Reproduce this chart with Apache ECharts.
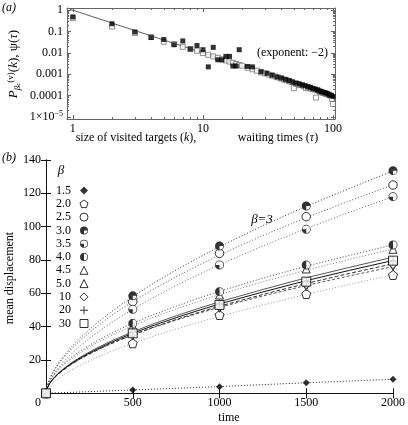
<!DOCTYPE html>
<html><head><meta charset="utf-8">
<script src="https://cdn.jsdelivr.net/npm/echarts@6/dist/echarts.min.js"></script>
<style>html,body{margin:0;padding:0;background:#fff}#c{width:408px;height:425px}</style>
</head><body><div id="c"></div>
<script>
const FONT = 'Liberation Serif';

// ---------- panel (a) data ----------
const targetK = [1,2,3,4,5,6,7,8,9,10,11,12,13,14,15,16,17,18,19,22,24,28,31,34,37,40,43,46,49,52,55,58,61,64,67,70,73,76,79,82,85,88,91,94,97,100];
const targetP = [0.48,0.23,0.095,0.052,0.042,0.024,0.036,0.015,0.022,0.014,0.0022,0.018,0.0047,0.0047,0.0068,0.0068,0.0024,0.0024,0.014,0.0023,0.0022,0.0013,0.0011,0.0009,0.00074,0.00066,0.00057,0.0005,0.00043,0.00038,0.00035,0.00031,0.00029,0.00026,0.00024,0.00021,0.0002,0.00018,0.00016,0.00015,0.00014,0.00013,0.00012,0.000105,0.0001,0.00009];
const waitTau = [1,2,3,4,5,6,7,8,9,10,11,12,13,14,15,16,17,18,19,20,22,24,26,28,30,32,34,36,38,40,42,44,46,48,50,52,54,56,58,60,62,64,66,68,70,72,74,76,78,80,82,84,86,88,90,92,94,96,98,100];
const waitPsi = [0.42,0.17,0.085,0.055,0.033,0.026,0.019,0.015,0.0125,0.0098,0.0081,0.0068,0.0058,0.005,0.0044,0.0039,0.0034,0.003,0.0027,0.0025,0.002,0.0017,0.00145,0.0012,0.0011,0.00095,0.00085,0.00078,0.0007,0.00062,0.00055,0.00052,0.00047,0.00043,0.00022,0.00036,0.00033,0.00031,0.0003,0.00027,0.00022,0.00024,0.00023,0.00021,0.0002,0.00019,0.00008,0.00018,0.00016,0.00015,0.00014,0.00013,0.00013,0.00012,0.00012,0.00011,0.000105,0.0001,0.00007,0.00004];
const guideX = [0.95, 100];
const guideY = [1.1, 0.0001];
const aXTicks = [1, 10, 100];
const aXTickLabels = ['1', '10', '100'];
const aYTicks = [0.00001, 0.0001, 0.001, 0.01, 0.1, 1];
const aYTickLabels = ['1×10{sup|−5}', '0.0001', '0.001', '0.01', '0.1', '1'];

// ---------- panel (b) data ----------
const betas = ['1.5','2.0','2.5','3.0','3.5','4.0','4.5','5.0','10','20','30'];
const markTimes = [0, 500, 1000, 1500, 2000];
const fitTimes = [0, 5, 10, 20, 35, 50, 75, 100, 150, 200, 275, 350, 425, 500, 625, 750, 875, 1000, 1250, 1500, 1750, 2000];
const fit15  = [0, 0.02, 0.04, 0.08, 0.14, 0.2, 0.3, 0.4, 0.6, 0.8, 1.1, 1.4, 1.7, 2.0, 2.5, 3.0, 3.5, 4.05, 5.2, 6.3, 7.35, 8.4];
const fit20  = [0, 1.71, 2.63, 4.06, 5.74, 7.16, 9.22, 11.02, 14.2, 16.96, 20.7, 24.05, 27.11, 30.0, 34.5, 38.6, 42.5, 46.2, 53.0, 59.4, 65.4, 71.1];
const fit25  = [0, 3.6, 5.43, 8.19, 11.4, 14.08, 17.9, 21.22, 27.0, 31.97, 38.62, 44.56, 50.0, 55.04, 62.8, 69.97, 76.6, 83.0, 94.7, 105.4, 115.5, 125.1];
const fit30  = [0, 3.66, 5.55, 8.41, 11.76, 14.57, 18.58, 22.09, 28.19, 33.48, 40.53, 46.85, 52.62, 58.03, 66.35, 74.0, 81.1, 87.97, 100.6, 112.2, 123.0, 133.4];
const fit35  = [0, 2.98, 4.56, 6.99, 9.85, 12.26, 15.72, 18.75, 24.07, 28.7, 34.92, 40.49, 45.6, 50.4, 57.8, 64.7, 71.0, 77.2, 88.4, 98.9, 108.7, 118.0];
const fit40  = [0, 3.46, 5.04, 7.34, 9.94, 12.06, 15.03, 17.57, 21.89, 25.58, 30.39, 34.64, 38.47, 42.05, 47.4, 52.3, 56.9, 61.2, 69.1, 76.3, 82.8, 89.1];
const fit45  = [0, 3.26, 4.77, 6.97, 9.47, 11.51, 14.35, 16.81, 20.99, 24.56, 29.25, 33.35, 37.08, 40.57, 45.8, 50.6, 55.0, 59.3, 66.9, 73.9, 80.4, 86.6];
const fit50  = [0, 2.67, 3.93, 5.79, 7.92, 9.67, 12.12, 14.24, 17.87, 20.99, 25.08, 28.7, 32.0, 35.0, 39.7, 43.9, 47.9, 51.6, 58.4, 64.7, 70.5, 76.0];
const fit10  = [0, 2.52, 3.73, 5.56, 7.65, 9.4, 11.85, 13.96, 17.63, 20.78, 24.9, 28.6, 32.0, 35.1, 39.9, 44.3, 48.4, 52.3, 59.3, 65.9, 72.0, 77.7];
const fit200 = [0, 2.64, 3.93, 5.84, 8.05, 9.88, 12.45, 14.68, 18.53, 21.84, 26.2, 30.1, 33.6, 36.9, 41.9, 46.5, 50.8, 54.9, 62.3, 69.3, 75.6, 81.7];
const fit300 = [0, 2.58, 3.83, 5.7, 7.85, 9.64, 12.15, 14.32, 18.08, 21.31, 25.58, 29.37, 32.8, 36.0, 40.9, 45.4, 49.6, 53.6, 60.8, 67.6, 73.8, 79.7];
const mark15  = [0, 2, 4, 6.4, 8.4];
const mark20  = [0, 30, 47, 59.6, 71];
const mark25  = [0, 55, 84, 106, 125];
const mark30  = [0, 58.5, 88.4, 112.4, 133.6];
const mark35  = [0, 50.4, 77, 98.4, 118];
const mark40  = [0, 42, 61, 77, 89];
const mark45  = [0, 40.5, 59, 74.6, 86.4];
const mark50  = [0, 34.5, 51, 64, 76];
const mark10  = [0, 36, 52, 65.5, 77.5];
const mark200 = [0, 36.5, 53.5, 67, 79.5];
const mark300 = [0, 36, 53, 67, 79.6];

// ---------- styles ----------
const RING = 'M10 0A10 10 0 1 1 10 20A10 10 0 1 1 10 0ZM10 1.7A8.3 8.3 0 1 0 10 18.3A8.3 8.3 0 1 0 10 1.7Z';
const SYM30 = 'path://' + RING + 'M10 10L18.3 10A8.3 8.3 0 1 0 10 18.3Z';
const SYM35 = 'path://' + RING + 'M10 10L1.7 10A8.3 8.3 0 0 0 10 18.3Z';
const SYM40 = 'path://' + RING + 'M10 1.7A8.3 8.3 0 0 0 10 18.3Z';
const PENTA = 'path://M10 0L19.5 6.9L15.9 18.1L4.1 18.1L0.5 6.9Z';
const PLUS = 'path://M4.4 0H5.6V4.4H10V5.6H5.6V10H4.4V5.6H0V4.4H4.4Z';

const curves = [
  {b:'1.5', fit:fit15, mark:mark15, line:{color:'#222', type:[1,2]}, sym:'diamond', size:7, fill:'#000'},
  {b:'2.0', fit:fit20, mark:mark20, line:{color:'#999', type:[1,2]}, sym:PENTA, size:9, fill:'#fff', border:'#000'},
  {b:'2.5', fit:fit25, mark:mark25, line:{color:'#555', type:[1,2]}, sym:'circle', size:8.5, fill:'#fff', border:'#000'},
  {b:'3.0', fit:fit30, mark:mark30, line:{color:'#333', type:[1,2]}, sym:SYM30, size:9, fill:'#000', back:true},
  {b:'3.5', fit:fit35, mark:mark35, line:{color:'#666', type:[1,2]}, sym:SYM35, size:9, fill:'#000', back:true},
  {b:'4.0', fit:fit40, mark:mark40, line:{color:'#444', type:[1,2]}, sym:SYM40, size:9, fill:'#000', back:true},
  {b:'4.5', fit:fit45, mark:mark45, line:{color:'#777', type:[1,2]}, sym:'triangle', size:8, fill:'#fff', border:'#000'},
  {b:'5.0', fit:fit50, mark:mark50, line:{color:'#555', type:[3,2]}, sym:'triangle', rotate:180, size:8, fill:'#fff', border:'#000'},
  {b:'10', fit:fit10, mark:mark10, line:{color:'#333', type:[4,2]}, sym:'diamond', size:9, fill:'#fff', border:'#000'},
  {b:'20', fit:fit200, mark:mark200, line:{color:'#555', type:'solid'}, sym:PLUS, size:9, fill:'#000'},
  {b:'30', fit:fit300, mark:mark300, line:{color:'#111', type:'solid'}, sym:'rect', size:9, fill:'#fff', border:'#000'}
];
const drawOrder = ['1.5','2.0','2.5','3.5','3.0','4.5','4.0','5.0','10','20','30'];

// ---------- minor tick positions ----------
const aXMinor = [], aYMinor = [];
for (let d = 0; d < 2; d++) for (let m = 2; m <= 9; m++) aXMinor.push(m * Math.pow(10, d));
for (let d = -5; d < 0; d++) for (let m = 2; m <= 9; m++) aYMinor.push(m * Math.pow(10, d));

const A_XMIN = Math.pow(10, -0.045), A_XMAX = Math.pow(10, 2.015);
const A_YMIN = Math.pow(10, -5.1), A_YMAX = Math.pow(10, 0.1);
const FRAME_A = '#666';

function findLabel(v, ticks, labels) {
  for (let i = 0; i < ticks.length; i++) if (Math.abs(Math.log10(v) - Math.log10(ticks[i])) < 1e-6) return labels[i];
  return '';
}
function axA(dim, pos, major, withLine, withLabel) {
  const isX = dim === 'x';
  const ticks = major ? (isX ? aXTicks : aYTicks) : (isX ? aXMinor : aYMinor);
  return {
    gridIndex: 0, type: 'log', position: pos,
    min: isX ? A_XMIN : A_YMIN, max: isX ? A_XMAX : A_YMAX,
    axisLine: {show: withLine, lineStyle: {color: FRAME_A, width: 1}},
    axisTick: {show: true, inside: true, length: major ? 4 : 2, customValues: ticks, lineStyle: {color: FRAME_A, width: 1}},
    axisLabel: withLabel ? {
      show: true, customValues: ticks, color: '#000', fontFamily: FONT, fontSize: 12, margin: isX ? 3 : 4,
      lineHeight: 14,
      formatter: v => isX ? findLabel(v, aXTicks, aXTickLabels) : findLabel(v, aYTicks, aYTickLabels),
      rich: {sup: {fontSize: 8, lineHeight: 8, verticalAlign: 'top', fontFamily: FONT, color: '#000'}}
    } : {show: false},
    splitLine: {show: false}, minorTick: {show: false}, minorSplitLine: {show: false}
  };
}
function axB(dim, pos, withLabel) {
  const isX = dim === 'x';
  return {
    gridIndex: 1, type: 'value', position: pos,
    min: 0, max: isX ? 2000 : 140, interval: isX ? 500 : 20,
    axisLine: {show: true, lineStyle: {color: '#111', width: 1}},
    axisTick: {show: true, inside: true, length: 5, lineStyle: {color: '#111', width: 1}},
    axisLabel: withLabel ? {
      show: true, color: '#000', fontFamily: FONT, fontSize: 12, margin: isX ? 4 : 5,
      formatter: v => v === 0 ? (isX ? '{z|0}' : '') : String(v),
      rich: {z: {fontFamily: FONT, fontSize: 12, color: '#000', padding: [0, 16, 0, 0]}}
    } : {show: false},
    splitLine: {show: false}
  };
}

const xAxes = [axA('x','bottom',true,true,true), axA('x','bottom',false,false,false), axA('x','top',true,true,false), axA('x','top',false,false,false),
               axB('x','bottom',true), axB('x','top',false)];
const yAxes = [axA('y','left',true,true,true), axA('y','left',false,false,false), axA('y','right',true,true,false), axA('y','right',false,false,false),
               axB('y','left',true), axB('y','right',false)];

const series = [];
// panel (a)
series.push({type:'line', xAxisIndex:0, yAxisIndex:0, data: guideX.map((x,i)=>[x, guideY[i]]), symbol:'none', lineStyle:{color:'#333', width:0.8}, silent:true, z:2});
series.push({type:'scatter', xAxisIndex:0, yAxisIndex:0, data: waitTau.map((x,i)=>[x, waitPsi[i]]), symbol:'rect', symbolSize:5, itemStyle:{color:'#fff', borderColor:'#555', borderWidth:0.8}, silent:true, z:3});
series.push({type:'scatter', xAxisIndex:0, yAxisIndex:0, data: targetK.map((x,i)=>[x, targetP[i]]), symbol:'rect', symbolSize:5, itemStyle:{color:'#000'}, silent:true, z:4});
// panel (b) fitted curves
curves.forEach(c => {
  series.push({type:'line', name:'fit ' + c.b, xAxisIndex:4, yAxisIndex:4, data: fitTimes.map((t,i)=>[t, c.fit[i]]),
    symbol:'none', smooth:false, lineStyle:{color:c.line.color, type:c.line.type, width:1}, silent:true, z:2});
});
// panel (b) markers
drawOrder.forEach(b => {
  const c = curves.find(q => q.b === b);
  const data = markTimes.map((t,i)=>[t, c.mark[i]]);
  if (c.back) series.push({type:'scatter', name:'bg ' + b, xAxisIndex:4, yAxisIndex:4, data, symbol:'circle', symbolSize:c.size - 0.5, itemStyle:{color:'#fff'}, silent:true, z:3});
  const s = {type:'scatter', name:b, xAxisIndex:4, yAxisIndex:4, data, symbol:c.sym, symbolSize:c.size, symbolRotate:c.rotate || 0,
    itemStyle:{color:c.fill}, silent:true, z:3};
  if (c.border) { s.itemStyle.borderColor = c.border; s.itemStyle.borderWidth = 1; }
  series.push(s);
});

const txt = (x, y, text, o) => ({type:'text', x, y, rotation: (o && o.rot) || 0, silent:true,
  style: Object.assign({text, fontFamily: FONT, fontSize: 12, fill:'#000', align:'center', verticalAlign:'middle'}, (o && o.style) || {})});
const italicRich = {i: {fontFamily: FONT, fontSize: 12, fontStyle: 'italic', fill: '#000'}};

const option = {
  animation: false,
  backgroundColor: '#fff',
  grid: [
    {left: 67, right: 73, top: 8, bottom: 306},
    {left: 46, right: 13, top: 160, bottom: 31.7}
  ],
  xAxis: xAxes,
  yAxis: yAxes,
  legend: {
    data: betas, orient: 'vertical', left: 50, top: 179.5, align: 'right',
    itemWidth: 8, itemHeight: 8, itemGap: 1.3, selectedMode: false,
    itemStyle: {borderWidth: 1},
    formatter: name => '{n|' + name + '}',
    textStyle: {fontFamily: FONT, fontSize: 12, color: '#000', lineHeight: 12,
      rich: {n: {width: 16, align: 'right', fontFamily: FONT, fontSize: 12, lineHeight: 12, color: '#000', padding: [0, 4, 0, 0]}}}
  },
  graphic: [
    txt(9, 8, '(a)', {style:{fontStyle:'italic'}}),
    txt(9, 158, '(b)', {style:{fontStyle:'italic'}}),
    txt(328, 53, '(exponent: −2)', {style:{align:'right', fontSize: 12}}),
    txt(136, 138, 'size of visited targets ({i|k}),', {style:{rich: italicRich}}),
    txt(278, 138, 'waiting times ({i|τ})', {style:{rich: italicRich}}),
    txt(14, 64, '{i|P}{sub|β}{sub2|c}{sup|(v)}({i|k}), ψ({i|τ})', {rot: Math.PI/2, style:{fontSize: 13, lineHeight: 16, rich: {
      i: {fontFamily: FONT, fontSize: 13, fontStyle:'italic', fill:'#000', lineHeight:16},
      sub: {fontFamily: FONT, fontSize: 9, fontStyle:'italic', fill:'#000', lineHeight: 9, verticalAlign:'bottom'},
      sub2: {fontFamily: FONT, fontSize: 7, fontStyle:'italic', fill:'#000', lineHeight: 5, verticalAlign:'bottom'},
      sup: {fontFamily: FONT, fontSize: 9, fill:'#000', lineHeight: 8, verticalAlign:'top'}
    }}}),
    txt(10, 278, 'mean displacement', {rot: Math.PI/2}),
    txt(229, 418, 'time'),
    txt(262, 220, 'β=3', {style:{fontStyle:'italic', fontSize: 13}}),
    txt(61, 171, 'β', {style:{fontStyle:'italic', fontSize: 13}})
  ],
  series
};
const chart = echarts.init(document.getElementById('c'), null, {renderer: 'canvas'});
chart.setOption(option);
</script></body></html>
